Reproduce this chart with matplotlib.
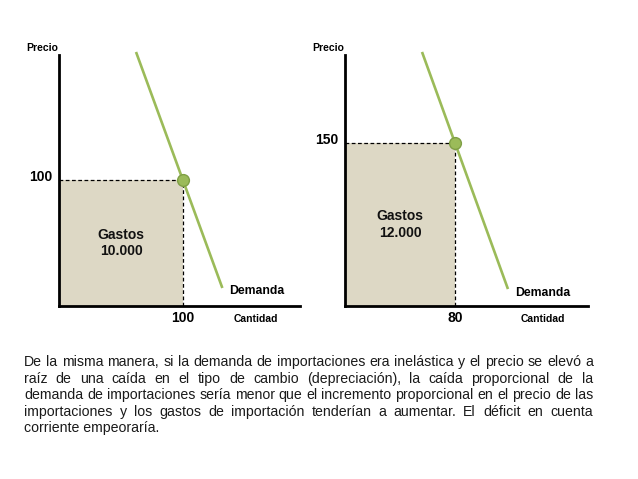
import matplotlib.pyplot as plt
import matplotlib.patches as mpatches

plt.rcParams['font.family'] = ['Liberation Sans', 'DejaVu Sans']

# data
precio = [100, 150]
cantidad = [100, 80]
gastos = ["Gastos\n10.000", "Gastos\n12.000"]
# demand line end points (cantidad, precio) for each panel
demanda_q = [[62, 131.5], [56, 118.5]]
demanda_p = [[201.6, 14.3], [233.7, 15.6]]
xlims = [194, 176.7]
ylims = [199.2, 230.9]

parrafo = [
    "De la misma manera, si la demanda de importaciones era inelástica y el precio se elevó a",
    "raíz de una caída en el tipo de cambio (depreciación), la caída proporcional de la",
    "demanda de importaciones sería menor que el incremento proporcional en el precio de las",
    "importaciones y los gastos de importación tenderían a aumentar. El déficit en cuenta",
    "corriente empeoraría.",
]

W, H = 638, 479
fig = plt.figure(figsize=(W / 100, H / 100), dpi=100)

verde = "#9bbb59"
tan = "#ddd8c5"
posiciones = [[59, 241], [345, 243]]

for i in range(2):
    x0, w = posiciones[i]
    ax = fig.add_axes([x0 / W, 1 - 306 / H, w / W, 251 / H])
    ax.set_xlim(0, xlims[i])
    ax.set_ylim(0, ylims[i])
    for s in ["top", "right"]:
        ax.spines[s].set_visible(False)
    for s in ["left", "bottom"]:
        ax.spines[s].set_linewidth(2)
        ax.spines[s].set_zorder(5)
    ax.set_xticks([])
    ax.set_yticks([])

    q, p = cantidad[i], precio[i]
    ax.add_patch(mpatches.Rectangle((0, 0), q, p, facecolor=tan, edgecolor="none", zorder=1))
    ax.plot([0, q], [p, p], color="black", lw=0.9, ls=(0, (3, 2)), zorder=2)
    ax.plot([q, q], [0, p], color="black", lw=0.9, ls=(0, (3, 2)), zorder=2)
    ax.plot(demanda_q[i], demanda_p[i], color=verde, lw=1.9, zorder=3,
            solid_capstyle="butt", clip_on=False)
    ax.plot([q], [p], "o", ms=8.5, mfc=verde, mec="#7f9f45", mew=1, zorder=4)

    ax.text(q / 2, p / 2, gastos[i], ha="center", va="center", fontsize=10,
            fontweight="bold", linespacing=1.25, color="#111111")
    ax.annotate(str(p), xy=(0, p), xytext=(-5, 2), textcoords="offset points",
                ha="right", va="center", fontsize=10, fontweight="bold")
    ax.annotate(str(q), xy=(q, 0), xytext=(0, -9), textcoords="offset points",
                ha="center", va="center", fontsize=10, fontweight="bold")
    ax.annotate("Demanda", xy=(demanda_q[i][1], demanda_p[i][1]), xytext=(25, -2.5),
                textcoords="offset points", ha="center", va="center",
                fontsize=8.8, fontweight="bold")
    ax.annotate("Cantidad", xy=(0.815, 0), xycoords="axes fraction", xytext=(0, -9),
                textcoords="offset points", ha="center", va="center",
                fontsize=7.5, fontweight="bold")
    ax.annotate("Precio", xy=(0, 1), xycoords="axes fraction", xytext=(-12, 5),
                textcoords="offset points", ha="center", va="center",
                fontsize=7.5, fontweight="bold")

# justified paragraph
renderer = fig.canvas.get_renderer()
left, right = 24, 593
ys = [366, 383, 399, 416, 432]
for k, linea in enumerate(parrafo):
    palabras = linea.split(" ")
    y = 1 - ys[k] / H
    if k == len(parrafo) - 1:
        fig.text(left / W, y, linea, fontsize=10.2, va="baseline", color="#1a1a1a")
        continue
    objs = [fig.text(0, y, p, fontsize=10.2, va="baseline", color="#1a1a1a") for p in palabras]
    anchos = [t.get_window_extent(renderer).width for t in objs]
    hueco = (right - left - sum(anchos)) / (len(palabras) - 1)
    x = left
    for t, a in zip(objs, anchos):
        t.set_x(x / W)
        x += a + hueco

fig.savefig("out.png", dpi=100, facecolor="white")
